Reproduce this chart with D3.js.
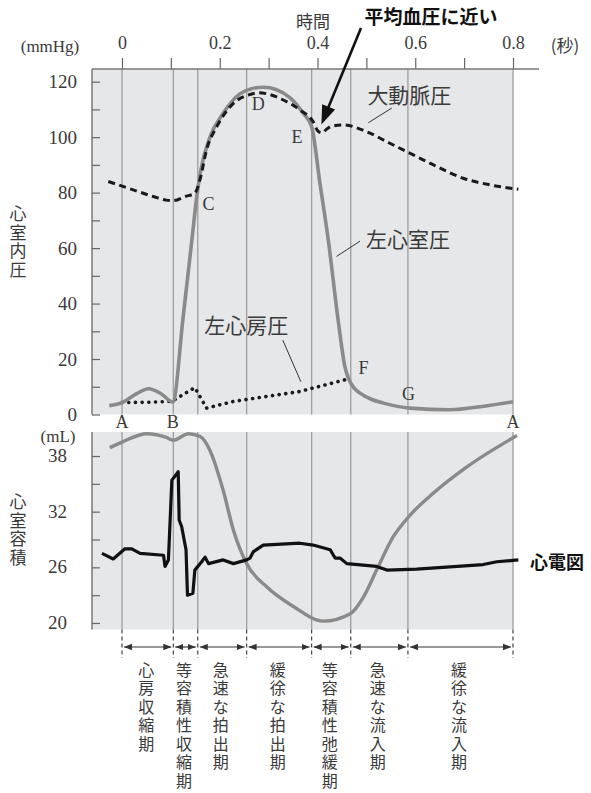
<!DOCTYPE html>
<html><head><meta charset="utf-8">
<script src="https://cdn.jsdelivr.net/npm/d3@7"></script>
<style>body{margin:0;background:#fff}</style>
</head><body><svg id="c" width="591" height="793"></svg>
<script>
// ---------------- data ----------------
const timeTicks = [0, 0.1, 0.2, 0.3, 0.4, 0.5, 0.6, 0.7, 0.8];
const timeTickLabels = ["0", "", "0.2", "", "0.4", "", "0.6", "", "0.8"];
const pressureTicks = [0, 10, 20, 30, 40, 50, 60, 70, 80, 90, 100, 110, 120];
const pressureLabels = [0, 20, 40, 60, 80, 100, 120];
const volumeTicks = [20, 23, 26, 29, 32, 35, 38];
const volumeLabels = [20, 26, 32, 38];
const phaseBounds = [0, 0.105, 0.155, 0.255, 0.388, 0.468, 0.585, 0.8];
const phaseNames = ["心房収縮期", "等容積性収縮期", "急速な拍出期", "緩徐な拍出期", "等容積性弛緩期", "急速な流入期", "緩徐な流入期"];

// left ventricular pressure (s, mmHg)
const lvTime = [-0.026, 0.0, 0.03, 0.054, 0.08, 0.104, 0.125, 0.143, 0.153, 0.16, 0.18, 0.207, 0.241, 0.265, 0.29, 0.315, 0.344, 0.371, 0.388, 0.405, 0.422, 0.443, 0.456, 0.463, 0.475, 0.487, 0.51, 0.535, 0.589, 0.671, 0.74, 0.8];
const lvPressure = [3.2, 4.3, 7.5, 9.3, 7.5, 4.5, 35, 63, 78.6, 87, 100, 108.6, 115.6, 117.5, 118, 117.2, 114.2, 108.6, 103.8, 83.4, 63, 33, 17.3, 13.2, 9.5, 7.7, 5.5, 4.1, 2.3, 1.7, 3.0, 4.6];

// aortic pressure (s, mmHg)
const aoTime = [-0.028, 0.023, 0.064, 0.09, 0.105, 0.129, 0.149, 0.16, 0.173, 0.194, 0.228, 0.262, 0.28, 0.3, 0.33, 0.364, 0.391, 0.402, 0.41, 0.418, 0.43, 0.453, 0.5, 0.548, 0.596, 0.644, 0.698, 0.753, 0.811];
const aoPressure = [84, 81, 78.6, 77.3, 77.1, 78.6, 79.8, 85, 95.4, 103.8, 112.2, 115.4, 116, 115.5, 113.4, 109.8, 105.6, 102, 101.6, 102.8, 104, 104.4, 102, 97.8, 93.6, 89.4, 85.2, 82.8, 81.2];

// left atrial pressure (s, mmHg)
const laTime = [0.0, 0.05, 0.102, 0.128, 0.149, 0.173, 0.228, 0.364, 0.456];
const laPressure = [4.3, 4.4, 4.7, 7.5, 9.7, 2.3, 4.7, 8.3, 12.5];

// ventricular volume (s, mL)
const volTime = [-0.025, 0.0, 0.051, 0.091, 0.105, 0.136, 0.16, 0.18, 0.207, 0.228, 0.255, 0.296, 0.35, 0.412, 0.467, 0.494, 0.521, 0.555, 0.589, 0.637, 0.705, 0.808];
const volValue = [38.9, 39.5, 40.4, 40.0, 39.7, 40.4, 40.1, 38.6, 34.3, 30.0, 26.4, 23.9, 21.8, 20.2, 21.0, 22.8, 25.7, 29.3, 31.6, 34.0, 36.8, 40.2];

// ECG trace (s, plotted on volume scale)
const ecgTime = [-0.041, -0.018, 0.006, 0.02, 0.037, 0.085, 0.088, 0.095, 0.102, 0.108, 0.115, 0.117, 0.122, 0.131, 0.134, 0.145, 0.149, 0.163, 0.17, 0.177, 0.207, 0.228, 0.255, 0.262, 0.269, 0.289, 0.364, 0.391, 0.426, 0.436, 0.446, 0.46, 0.521, 0.542, 0.603, 0.739, 0.767, 0.811];
const ecgValue = [27.5, 26.9, 28.0, 28.0, 27.5, 27.3, 26.1, 26.8, 35.4, 35.8, 36.3, 31.1, 30.4, 27.9, 23.0, 23.2, 25.7, 26.6, 27.1, 26.4, 26.8, 26.4, 26.8, 27.0, 27.7, 28.4, 28.6, 28.4, 27.9, 27.0, 27.0, 26.4, 26.1, 25.7, 25.8, 26.3, 26.6, 26.8];

// point labels
const pointNames = ["A", "B", "C", "D", "E", "F", "G", "A"];
const pointTime = [0, 0.104, 0.177, 0.279, 0.358, 0.494, 0.586, 0.8];
const pointPressure = [-2.5, -2.5, 76, 112, 100, 17, 7.5, -2.5];

// ---------------- drawing ----------------
const svg = d3.select("#c");
const serif = "'Liberation Serif','DejaVu Serif',serif";
const jp = "'Noto Sans CJK JP','Noto Sans CJK SC',sans-serif";
const txt = "#3a3a3a";

const x = d3.scaleLinear().domain([0, 0.8]).range([122, 513]);
const y1 = d3.scaleLinear().domain([0, 120]).range([414.5, 81.7]);
const y2 = d3.scaleLinear().domain([20, 38]).range([623, 456]);
const left = 92, right = x(0.8);
const top1 = 69, bot1 = y1(0), top2 = 432, bot2 = 629.5;

// panels
svg.append("rect").attr("x", left).attr("y", top1).attr("width", right - left).attr("height", bot1 - top1).attr("fill", "#e6e7e9");
svg.append("rect").attr("x", left).attr("y", top2).attr("width", right - left).attr("height", bot2 - top2).attr("fill", "#e6e7e9");

// phase grid lines
phaseBounds.forEach(t => {
  svg.append("line").attr("x1", x(t)).attr("x2", x(t)).attr("y1", top1).attr("y2", bot1).attr("stroke", "#9d9d9f").attr("stroke-width", 1.3);
  svg.append("line").attr("x1", x(t)).attr("x2", x(t)).attr("y1", top2).attr("y2", bot2).attr("stroke", "#9d9d9f").attr("stroke-width", 1.3);
  svg.append("line").attr("x1", x(t)).attr("x2", x(t)).attr("y1", bot2).attr("y2", 658).attr("stroke", "#444").attr("stroke-width", 1.2).attr("stroke-dasharray", "4,3");
});

// top time axis
const axTop = d3.axisTop(x).tickValues(timeTicks).tickSize(11).tickFormat((d, i) => timeTickLabels[i]);
const gTop = svg.append("g").attr("transform", `translate(0,${top1})`).call(axTop);
gTop.select(".domain").remove();
gTop.append("line").attr("x1", left).attr("x2", 539).attr("y1", 0).attr("y2", 0).attr("stroke", "#777").attr("stroke-width", 1.5);
gTop.selectAll(".tick line").attr("stroke", "#666").attr("stroke-width", 1.2);
gTop.selectAll(".tick text").attr("font-family", serif).attr("font-size", 18).attr("fill", txt).attr("dy", "-0.35em").attr("y", -14);

// left pressure axis
const axL = d3.axisRight(y1).tickValues(pressureTicks).tickSize(8).tickFormat("");
const gL = svg.append("g").attr("transform", `translate(${left},0)`).call(axL);
gL.select(".domain").remove();
gL.append("line").attr("x1", 0).attr("x2", 0).attr("y1", top1).attr("y2", bot1).attr("stroke", "#666").attr("stroke-width", 1.3);
gL.selectAll(".tick line").attr("stroke", "#666").attr("stroke-width", 1.2);
svg.append("g").selectAll("text").data(pressureLabels).join("text")
  .attr("x", 77).attr("y", d => y1(d)).attr("dy", "0.35em").attr("text-anchor", "end")
  .attr("font-family", serif).attr("font-size", 19).attr("fill", txt).text(d => d);

// left volume axis
const axV = d3.axisRight(y2).tickValues(volumeTicks).tickSize(8).tickFormat("");
const gV = svg.append("g").attr("transform", `translate(${left},0)`).call(axV);
gV.select(".domain").remove();
gV.append("line").attr("x1", 0).attr("x2", 0).attr("y1", top2).attr("y2", bot2).attr("stroke", "#666").attr("stroke-width", 1.3);
gV.selectAll(".tick line").attr("stroke", "#666").attr("stroke-width", 1.2);
svg.append("g").selectAll("text").data(volumeLabels).join("text")
  .attr("x", 67).attr("y", d => y2(d)).attr("dy", "0.32em").attr("text-anchor", "end")
  .attr("font-family", serif).attr("font-size", 19).attr("fill", txt).text(d => d);

// unit labels
svg.append("text").attr("x", 50).attr("y", 52).attr("text-anchor", "middle").attr("font-family", serif).attr("font-size", 17).attr("fill", txt).text("(mmHg)");
svg.append("text").attr("x", 565).attr("y", 52).attr("text-anchor", "middle").attr("font-family", jp).attr("font-size", 17).attr("fill", txt).text("(秒)");
svg.append("text").attr("x", 58).attr("y", 442).attr("text-anchor", "middle").attr("font-family", serif).attr("font-size", 17).attr("fill", txt).text("(mL)");
svg.append("text").attr("x", 313).attr("y", 28).attr("text-anchor", "middle").attr("font-family", jp).attr("font-size", 17).attr("fill", txt).text("時間");

// vertical text helper (one text per character, stacked)
function vtext(str, cx, cy0, step, size) {
  const g = svg.append("g");
  Array.from(str).forEach((ch, i) => {
    g.append("text").attr("x", cx).attr("y", cy0 + i * step).attr("dy", "0.36em").attr("text-anchor", "middle")
      .attr("font-family", jp).attr("font-size", size).attr("fill", txt).text(ch);
  });
}
vtext("心室内圧", 18, 214, 18.5, 17);
vtext("心室容積", 18, 502, 18.5, 17);

// curves
const lineP = d3.line().x(d => x(d[0])).y(d => y1(d[1]));
const lineV = d3.line().x(d => x(d[0])).y(d => y2(d[1]));
const zip = (a, b) => a.map((v, i) => [v, b[i]]);

svg.append("path").datum(zip(laTime, laPressure)).attr("d", lineP)
  .attr("fill", "none").attr("stroke", "#1a1a1a").attr("stroke-width", 3.6).attr("stroke-linecap", "round").attr("stroke-dasharray", "0.1,6.6");
svg.append("path").datum(zip(lvTime, lvPressure)).attr("d", lineP.curve(d3.curveMonotoneX))
  .attr("fill", "none").attr("stroke", "#8a8a8a").attr("stroke-width", 3.6);
svg.append("path").datum(zip(aoTime, aoPressure)).attr("d", d3.line().x(d => x(d[0])).y(d => y1(d[1])).curve(d3.curveMonotoneX))
  .attr("fill", "none").attr("stroke", "#1a1a1a").attr("stroke-width", 3).attr("stroke-dasharray", "7,4.5");
svg.append("path").datum(zip(volTime, volValue)).attr("d", lineV.curve(d3.curveMonotoneX))
  .attr("fill", "none").attr("stroke", "#8a8a8a").attr("stroke-width", 3.4);
svg.append("path").datum(zip(ecgTime, ecgValue)).attr("d", d3.line().x(d => x(d[0])).y(d => y2(d[1])))
  .attr("fill", "none").attr("stroke", "#111").attr("stroke-width", 3.2).attr("stroke-linejoin", "round");

// point letters
svg.append("g").selectAll("text").data(pointNames).join("text")
  .attr("x", (d, i) => x(pointTime[i])).attr("y", (d, i) => y1(pointPressure[i])).attr("dy", "0.35em").attr("text-anchor", "middle")
  .attr("font-family", serif).attr("font-size", 18).attr("fill", txt).text(d => d);

// curve labels with leader lines
function label(str, cx, cy, lx1, ly1, lx2, ly2) {
  svg.append("text").attr("x", cx).attr("y", cy).attr("dy", "0.36em").attr("text-anchor", "middle")
    .attr("font-family", jp).attr("font-size", 21).attr("fill", txt).text(str);
  svg.append("line").attr("x1", lx1).attr("y1", ly1).attr("x2", lx2).attr("y2", ly2).attr("stroke", "#333").attr("stroke-width", 1);
}
label("大動脈圧", x(0.588), y1(115), x(0.504), y1(105.2), x(0.552), y1(110.5));
label("左心室圧", x(0.585), y1(63), x(0.439), y1(57), x(0.487), y1(62.5));
label("左心房圧", x(0.254), y1(32), x(0.329), y1(26.8), x(0.366), y1(11.8));

// mean pressure annotation arrow
const tip = [x(0.408), y1(104.6)];
const tail = [361, 28];
const ux = tip[0] - tail[0], uy = tip[1] - tail[1], L = Math.hypot(ux, uy);
const u = [ux / L, uy / L], pn = [-u[1], u[0]];
const hl = 19, hw = 7;
const base = [tip[0] - u[0] * hl, tip[1] - u[1] * hl];
svg.append("line").attr("x1", tail[0]).attr("y1", tail[1]).attr("x2", base[0] + u[0] * 3).attr("y2", base[1] + u[1] * 3).attr("stroke", "#111").attr("stroke-width", 2.6);
svg.append("path").attr("d", `M${tip[0]},${tip[1]}L${base[0] + pn[0] * hw},${base[1] + pn[1] * hw}L${base[0] - pn[0] * hw},${base[1] - pn[1] * hw}Z`).attr("fill", "#111");
svg.append("text").attr("x", 431).attr("y", 17).attr("dy", "0.36em").attr("text-anchor", "middle")
  .attr("font-family", jp).attr("font-size", 19).attr("font-weight", 700).attr("fill", "#111").text("平均血圧に近い");

// ECG label
svg.append("text").attr("x", 557).attr("y", y2(26.5)).attr("dy", "0.36em").attr("text-anchor", "middle")
  .attr("font-family", jp).attr("font-size", 18).attr("font-weight", 700).attr("fill", "#111").text("心電図");

// phase arrows + labels
const defs = svg.append("defs");
defs.append("marker").attr("id", "ah").attr("viewBox", "0 0 10 10").attr("refX", 10).attr("refY", 5)
  .attr("markerWidth", 8).attr("markerHeight", 8).attr("markerUnits", "userSpaceOnUse").attr("orient", "auto-start-reverse")
  .append("path").attr("d", "M0,1L10,5L0,9Z").attr("fill", "#333");
const arrowY = 647;
phaseNames.forEach((name, i) => {
  const a = x(phaseBounds[i]) + 2, b = x(phaseBounds[i + 1]) - 2;
  svg.append("line").attr("x1", a).attr("x2", b).attr("y1", arrowY).attr("y2", arrowY)
    .attr("stroke", "#333").attr("stroke-width", 1.2).attr("marker-start", "url(#ah)").attr("marker-end", "url(#ah)");
  const cx = (x(phaseBounds[i]) + x(phaseBounds[i + 1])) / 2 - 1.5;
  vtext(name, cx, 670, 18.5, 16);
});
</script></body></html>
